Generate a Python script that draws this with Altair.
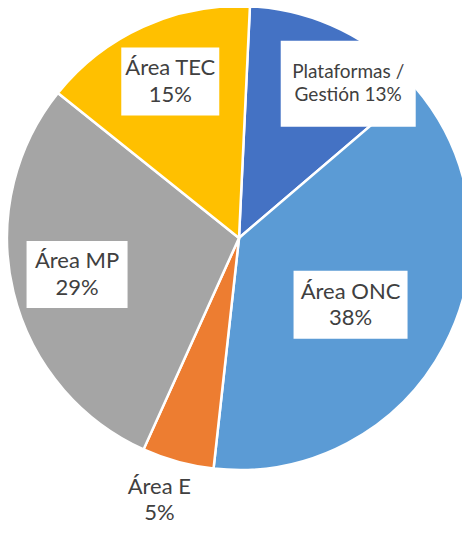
import math
import altair as alt
import pandas as pd

# ---- data ----
categories = ["Plataformas / Gestión", "Área ONC", "Área E", "Área MP", "Área TEC"]
values = [13, 38, 5, 29, 15]
label_line1 = ["Plataformas /", "Área ONC", "Área E", "Área MP", "Área TEC"]
label_line2 = ["Gestión 13%", "38%", "5%", "29%", "15%"]
colors = ["#4472C4", "#5B9BD5", "#ED7D31", "#A5A5A5", "#FFC000"]

# ---- layout (label placement / styling, not data) ----
W, H = 454, 518
CX, CY = 231, 230
R = 232
START_RAD = math.radians(2.7)
label_radius = [189, 130, 274, 166, 171]
label_shift_deg = [9.2, 3, 1.6, 0.8, 0.6]
box_w = [135, 114, 0, 101, 98]
box_h = [86, 68, 0, 67, 68]
font_size = [19, 22, 22, 22, 22]

df = pd.DataFrame({
    "idx": list(range(len(categories))),
    "category": categories,
    "value": values,
    "l1": label_line1,
    "l2": label_line2,
    "lr": label_radius,
    "shift": label_shift_deg,
    "bw": box_w,
    "bh": box_h,
    "fs": font_size,
})

xs = alt.Scale(domain=[0, W], nice=False, zero=False)
ys = alt.Scale(domain=[H, 0], nice=False, zero=False)

base = alt.Chart(df)

pie = base.mark_arc(outerRadius=R, stroke="white", strokeWidth=2.5, x=CX, y=CY).encode(
    theta=alt.Theta("value:Q", stack=True,
                    scale=alt.Scale(range=[START_RAD, START_RAD + 2 * math.pi])),
    color=alt.Color("category:N", scale=alt.Scale(domain=categories, range=colors), legend=None),
    order=alt.Order("idx:Q"),
)

lab = base.transform_joinaggregate(total="sum(value)").transform_window(
    cum="sum(value)", sort=[alt.SortField("idx")], frame=[None, 0]
).transform_calculate(
    ang=f"{START_RAD} + 2*PI*(datum.cum - datum.value/2)/datum.total + datum.shift*PI/180",
).transform_calculate(
    lx=f"{CX} + datum.lr*sin(datum.ang)",
    ly=f"{CY} - datum.lr*cos(datum.ang)",
).transform_calculate(
    bx1="datum.lx - datum.bw/2",
    bx2="datum.lx + datum.bw/2",
    by1="datum.ly - datum.bh/2",
    by2="datum.ly + datum.bh/2",
    y1="datum.ly - datum.fs*0.6",
    y2="datum.ly + datum.fs*0.6",
)

boxes = lab.transform_filter("datum.bw > 0").mark_rect(color="white").encode(
    x=alt.X("bx1:Q", scale=xs, axis=None),
    x2="bx2:Q",
    y=alt.Y("by1:Q", scale=ys, axis=None),
    y2="by2:Q",
)

txt1 = lab.mark_text(font="Lato", color="#404040", baseline="middle", align="center").encode(
    x=alt.X("lx:Q", scale=xs, axis=None),
    y=alt.Y("y1:Q", scale=ys, axis=None),
    text="l1:N",
    size=alt.Size("fs:Q", scale=None, legend=None),
)
txt2 = lab.mark_text(font="Lato", color="#404040", baseline="middle", align="center").encode(
    x=alt.X("lx:Q", scale=xs, axis=None),
    y=alt.Y("y2:Q", scale=ys, axis=None),
    text="l2:N",
    size=alt.Size("fs:Q", scale=None, legend=None),
)

chart = alt.layer(pie, boxes, txt1, txt2).properties(
    width=W, height=H, padding=0,
    autosize=alt.AutoSizeParams(type="none"),
).configure_view(stroke=None)

chart.save("out.html", embed_options={"renderer": "svg", "actions": False})
